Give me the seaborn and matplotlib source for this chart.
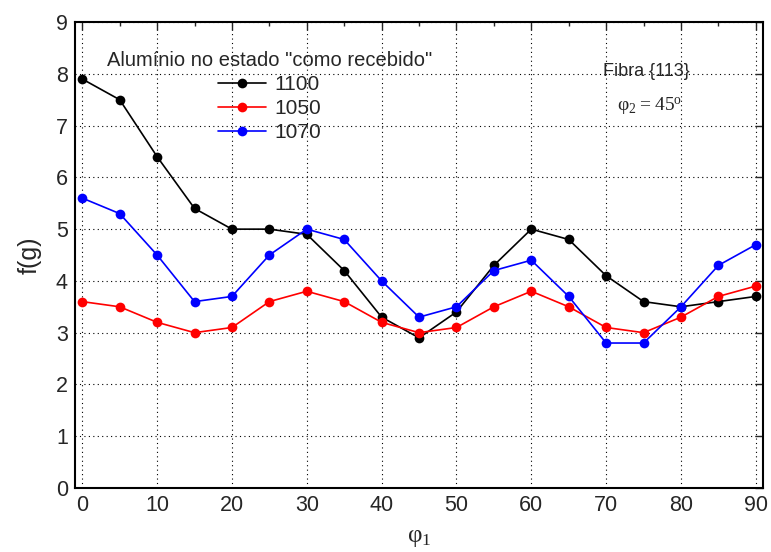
import pandas as pd
import matplotlib.pyplot as plt
import seaborn as sns
from matplotlib.ticker import MultipleLocator

phi1 = [0, 5, 10, 15, 20, 25, 30, 35, 40, 45, 50, 55, 60, 65, 70, 75, 80, 85, 90]
f_1100 = [7.9, 7.5, 6.4, 5.4, 5.0, 5.0, 4.9, 4.2, 3.3, 2.9, 3.4, 4.3, 5.0, 4.8, 4.1, 3.6, 3.5, 3.6, 3.7]
f_1050 = [3.6, 3.5, 3.2, 3.0, 3.1, 3.6, 3.8, 3.6, 3.2, 3.0, 3.1, 3.5, 3.8, 3.5, 3.1, 3.0, 3.3, 3.7, 3.9]
f_1070 = [5.6, 5.3, 4.5, 3.6, 3.7, 4.5, 5.0, 4.8, 4.0, 3.3, 3.5, 4.2, 4.4, 3.7, 2.8, 2.8, 3.5, 4.3, 4.7]
series = ["1100", "1050", "1070"]
colors = ["black", "red", "blue"]

df = pd.DataFrame({
    "phi1": phi1 * 3,
    "f": f_1100 + f_1050 + f_1070,
    "liga": [s for s in series for _ in phi1],
})

sns.set_style("white")
plt.rcParams['font.family'] = ['Liberation Sans', 'DejaVu Sans']

fig = plt.figure(figsize=(7.71, 5.52), dpi=100)
ax = fig.add_axes([0.097, 0.116, 0.893, 0.844])

sns.lineplot(data=df, x="phi1", y="f", hue="liga", hue_order=series,
             palette=colors, marker="o", markersize=7, markeredgewidth=0,
             linewidth=1.2, ax=ax)

ax.set_xlim(-1, 91)
ax.set_ylim(0, 9)
ax.xaxis.set_major_locator(MultipleLocator(10))
ax.xaxis.set_minor_locator(MultipleLocator(5))
ax.yaxis.set_major_locator(MultipleLocator(1))
ax.grid(True, which="major", color="black", linestyle=(0, (1, 3)), linewidth=0.8)
ax.tick_params(which="both", direction="in", top=True, right=True, labelsize=15.5)
ax.tick_params(which="major", length=6, width=1, pad=5)
ax.tick_params(which="minor", length=3, width=1)
for sp in ax.spines.values():
    sp.set_color("black")
    sp.set_linewidth(1.5)

ax.set_xlabel(r"$\mathregular{\varphi_1}$", fontsize=18, family="Liberation Serif",
              labelpad=8)
ax.set_ylabel("f(g)", fontsize=18, labelpad=10)

leg = ax.legend(title='Alumínio no estado "como recebido"', frameon=False,
                loc="upper left", bbox_to_anchor=(0.025, 0.97), fontsize=15,
                title_fontsize=14.5, handlelength=2.3, handletextpad=0.4,
                labelspacing=0.25, borderpad=0.2)
leg._legend_box.align = "center"

ax.text(0.83, 0.885, "Fibra {113}", transform=ax.transAxes, fontsize=13, ha="center")
ax.text(0.835, 0.81, r"$\mathregular{\varphi_2 = 45^o}$", transform=ax.transAxes,
        fontsize=14, ha="center", family="Liberation Serif")

fig.savefig("out.png", dpi=100)
